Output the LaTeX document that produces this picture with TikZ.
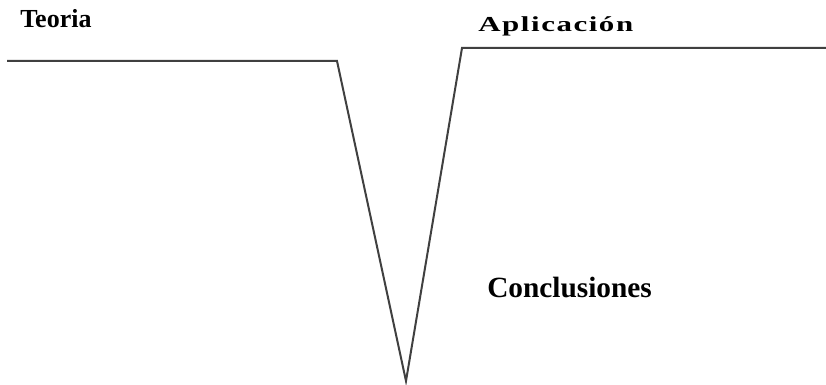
\documentclass[tikz,border=0pt]{standalone}
\usepackage{fontspec}
\setmainfont{Liberation Serif}
\newfontfamily\spacedfont[LetterSpace=5]{Liberation Serif}
\usepackage{tikz}

\begin{document}
\begin{tikzpicture}[x=0.75pt, y=-0.75pt,
  lbl/.style={anchor=west, inner sep=0pt, font=\bfseries}]
\useasboundingbox (0,0) rectangle (826,385);
\coordinate (tStart) at (7,61);
\coordinate (tEnd) at (337,61);
\coordinate (vBot) at (406,381);
\coordinate (aStart) at (462,48);
\coordinate (aEnd) at (826,48);
\draw[line width=1.5pt, black!75, line join=miter] (tStart) -- (tEnd) -- (vBot) -- (aStart) -- (aEnd);
\node[lbl, font=\fontsize{19.5}{22}\selectfont\bfseries] (teoria) at (20,19) {Teoria};
\node[lbl, xscale=1.45, font=\fontsize{16}{18}\selectfont\spacedfont\bfseries] (aplic) at (478,26) {Aplicación};
\node[lbl, font=\fontsize{22}{24}\selectfont\bfseries] (concl) at (487,288) {Conclusiones};
\end{tikzpicture}
\end{document}
